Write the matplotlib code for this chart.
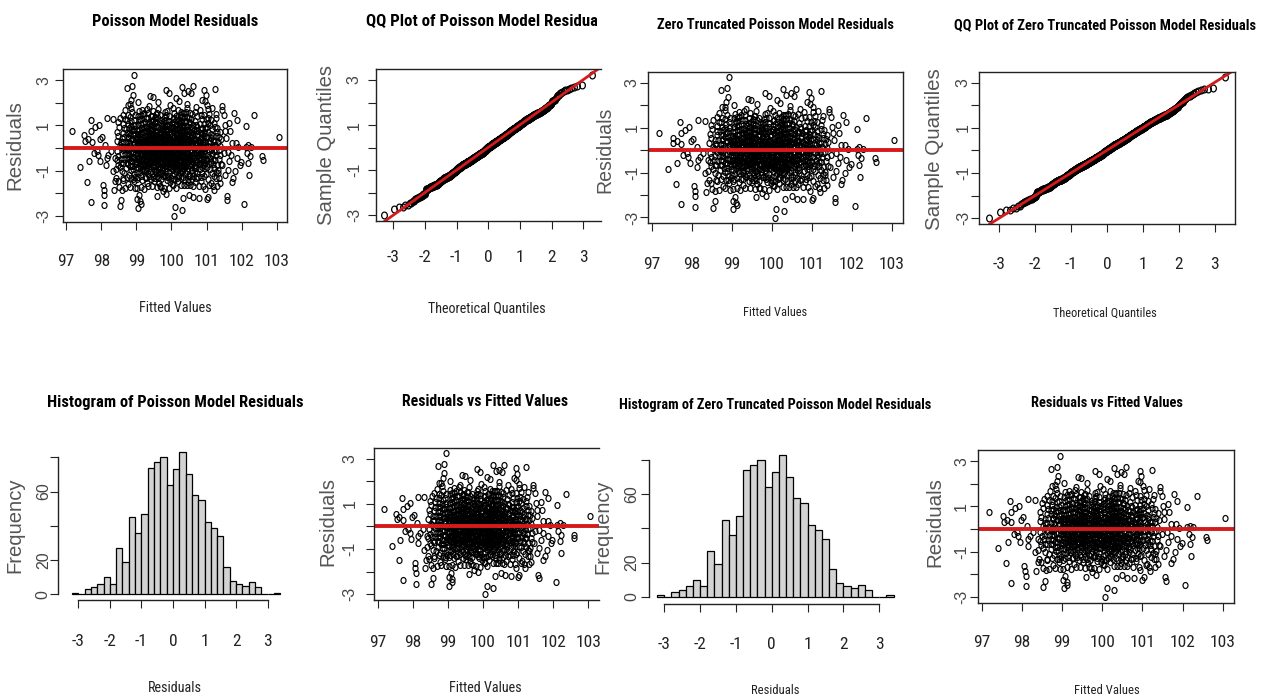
import statistics
import numpy as np
import matplotlib
matplotlib.use("Agg")
import matplotlib.pyplot as plt
from matplotlib import font_manager
from matplotlib.path import Path
from matplotlib.transforms import Affine2D, Bbox

# (fitted, residual) pairs with |residual| > 1.8
tail_points = [
    (100.07, -3.01),
    (100.30, -2.71), (99.04, -2.63), (100.11, -2.62),
    (98.09, -2.53), (98.53, -2.57), (102.07, -2.47), (99.13, -2.46),
    (97.72, -2.38), (98.57, -2.28), (99.11, -2.35), (99.02, -2.26), (101.59, -2.29), (101.00, -2.24),
    (98.09, -2.06), (99.08, -2.07), (101.57, -2.13), (101.03, -2.14), (100.79, -2.18),
    (100.62, -2.17), (100.33, -2.19), (99.60, -2.11), (99.85, -2.03), (100.50, -2.05),
    (98.07, -1.84), (98.36, -1.85), (98.59, -1.83), (101.20, -1.86), (100.95, -1.82), (99.75, -1.91),
    (101.02, 1.90), (98.75, 1.91), (98.82, 1.94), (101.43, 1.84), (99.35, 1.85), (99.95, 1.88),
    (100.45, 1.95), (100.70, 1.82),
    (98.86, 2.13), (100.88, 2.13), (100.95, 2.06), (99.62, 2.05), (100.20, 2.10), (99.05, 2.02),
    (98.90, 2.35), (99.40, 2.29), (99.48, 2.25), (100.97, 2.33), (100.12, 2.21),
    (99.83, 2.55), (99.93, 2.42), (100.36, 2.45), (100.47, 2.52), (100.93, 2.57), (100.55, 2.41),
    (98.72, 2.66), (98.88, 2.76), (100.29, 2.71), (100.60, 2.74), (101.24, 2.62),
    (98.94, 3.24),
]

# points inside +-1.8 that stand apart from the central cloud
edge_points = [
    (98.06, -1.62),
    (97.60, -1.50), (98.39, -1.47), (101.72, -1.50),
    (98.61, -1.32), (101.76, -1.32), (101.28, -1.33),
    (98.32, -1.03), (101.82, -1.03), (102.21, -1.18), (101.32, -1.10), (101.53, -1.18),
    (97.40, -0.85), (101.60, -0.95),
    (98.14, -0.74), (101.94, -0.74), (102.19, -0.66), (101.45, -0.74), (101.98, -0.61),
    (97.64, -0.59), (101.86, -0.44), (102.60, -0.51), (101.65, -0.59), (97.95, -0.57), (98.40, -0.44), (98.16, -0.44),
    (97.91, -0.29), (98.20, -0.29), (102.23, -0.37), (102.58, -0.37), (101.70, -0.30), (102.15, -0.22),
    (101.49, -0.22), (97.79, -0.22),
    (97.87, -0.12), (98.28, -0.12), (101.61, -0.15),
    (98.12, 0.15), (102.12, 0.07), (102.19, 0.15), (102.27, 0.07), (101.90, 0.05),
    (97.73, 0.29), (101.72, 0.22), (101.84, 0.22), (97.54, 0.32),
    (97.52, 0.56), (97.97, 0.41), (98.03, 0.51), (103.06, 0.47), (101.55, 0.45), (97.62, 0.41),
    (97.17, 0.76), (97.72, 0.76), (101.67, 0.74), (101.53, 0.74),
    (97.83, 0.91), (102.12, 0.96),
    (97.93, 1.03), (101.51, 1.03), (101.65, 1.10),
    (97.70, 1.25), (98.16, 1.32), (98.32, 1.29), (101.86, 1.25),
    (101.78, 1.54), (102.36, 1.44), (101.49, 1.47),
    (101.43, 1.69), (101.16, 1.76),
]

# the dense central cloud, estimated band by band (0.2 wide residual bands)
core_points = [
    # -1.8 .. -1.6
    (99.21, -1.79), (100.43, -1.64), (98.82, -1.71), (99.67, -1.67), (100.12, -1.75), (101.08, -1.61), (99.45, -1.69),
    (98.51, -1.73), (100.77, -1.66), (99.93, -1.78), (100.28, -1.63), (99.12, -1.70), (98.95, -1.76), (100.61, -1.65),
    (99.58, -1.72), (101.31, -1.68), (99.80, -1.74), (100.05, -1.61), (98.68, -1.77), (100.91, -1.66), (99.34, -1.69),
    (100.36, -1.63), (99.71, -1.71), (99.02, -1.75), (100.54, -1.64), (101.17, -1.67),
    # -1.6 .. -1.4
    (99.64, -1.52), (100.18, -1.47), (98.77, -1.58), (100.83, -1.43), (99.29, -1.55), (100.47, -1.49), (99.88, -1.41),
    (98.93, -1.46), (101.12, -1.53), (100.02, -1.57), (99.51, -1.44), (100.66, -1.51), (99.17, -1.42), (101.38, -1.56),
    (99.97, -1.48), (98.47, -1.45),
    # -1.4 .. -1.2
    (99.43, -1.38), (100.21, -1.25), (98.86, -1.31), (99.77, -1.22), (100.58, -1.36), (99.06, -1.28), (100.94, -1.21),
    (99.61, -1.34), (100.33, -1.27), (98.62, -1.39), (99.91, -1.23), (100.71, -1.33), (99.24, -1.29), (100.09, -1.37),
    (101.21, -1.24), (99.53, -1.32), (98.97, -1.26), (100.47, -1.35), (99.82, -1.21), (100.15, -1.30), (99.36, -1.22),
    (101.04, -1.38), (98.74, -1.27), (100.62, -1.25), (99.69, -1.36), (100.27, -1.31), (99.14, -1.23), (99.99, -1.34),
    (100.85, -1.28), (98.43, -1.33), (99.48, -1.26), (100.38, -1.39), (99.86, -1.29), (101.35, -1.32), (99.03, -1.37),
    (100.52, -1.22), (99.58, -1.24), (100.04, -1.36), (99.27, -1.30), (100.76, -1.27), (98.91, -1.35), (100.19, -1.21),
    # -1.2 .. -1.0
    (99.72, -1.12), (100.31, -1.04), (98.79, -1.17), (100.88, -1.09), (99.19, -1.01), (100.07, -1.15), (99.55, -1.06),
    (101.15, -1.11), (98.58, -1.03), (100.49, -1.19), (99.93, -1.08), (99.33, -1.14), (100.67, -1.02), (99.01, -1.10),
    (100.23, -1.07), (99.79, -1.18), (101.27, -1.05), (99.44, -1.13), (100.12, -1.01), (98.94, -1.16), (100.57, -1.09),
    (99.62, -1.04), (100.39, -1.12), (99.09, -1.07), (100.97, -1.15), (99.85, -1.03), (98.66, -1.11), (100.01, -1.18),
    (99.38, -1.06), (100.73, -1.10), (99.66, -1.14),
    # -1.0 .. -0.8
    (99.57, -0.93), (100.26, -0.84), (98.84, -0.97), (100.69, -0.88), (99.11, -0.81), (100.04, -0.95), (99.76, -0.86),
    (101.09, -0.91), (98.53, -0.83), (100.44, -0.99), (99.31, -0.89), (99.95, -0.82), (100.81, -0.94), (99.04, -0.87),
    (100.17, -0.92), (99.68, -0.85), (101.33, -0.96), (99.47, -0.81), (100.36, -0.90), (98.98, -0.84), (100.59, -0.98),
    (99.83, -0.88), (100.11, -0.83), (99.22, -0.95), (100.92, -0.86), (99.61, -0.91), (98.71, -0.89), (100.29, -0.97),
    (99.89, -0.82), (100.48, -0.87), (99.15, -0.93), (101.02, -0.85), (99.52, -0.99), (100.07, -0.81), (98.41, -0.92),
    (100.64, -0.84), (99.74, -0.96), (99.37, -0.88), (100.21, -0.91), (100.87, -0.83), (98.89, -0.94), (99.98, -0.86),
    (100.41, -0.81), (99.27, -0.97), (101.22, -0.89),
    # -0.8 .. -0.6
    (99.63, -0.72), (100.24, -0.65), (98.81, -0.78), (100.73, -0.61), (99.18, -0.69), (100.02, -0.75), (99.49, -0.63),
    (101.06, -0.71), (98.61, -0.67), (100.41, -0.79), (99.87, -0.64), (99.33, -0.73), (100.86, -0.68), (99.07, -0.62),
    (100.15, -0.76), (99.71, -0.66), (101.29, -0.74), (99.42, -0.61), (100.34, -0.77), (98.96, -0.64), (100.55, -0.70),
    (99.81, -0.79), (100.09, -0.63), (99.25, -0.75), (100.95, -0.67), (99.58, -0.72), (98.72, -0.65), (100.28, -0.78),
    (99.92, -0.61), (100.49, -0.74), (99.12, -0.68), (101.13, -0.63), (99.54, -0.77), (100.05, -0.69), (98.48, -0.73),
    (100.61, -0.62), (99.77, -0.76), (99.36, -0.66), (100.19, -0.71), (100.82, -0.64), (98.87, -0.79), (99.96, -0.67),
    (100.44, -0.61), (99.29, -0.74), (101.41, -0.69), (99.67, -0.63), (100.32, -0.72), (98.76, -0.68), (100.67, -0.75),
    (99.03, -0.62), (99.84, -0.77), (100.12, -0.66), (99.46, -0.71), (100.91, -0.73), (99.21, -0.64), (100.38, -0.78),
    (98.99, -0.69), (99.74, -0.65), (100.58, -0.76), (99.51, -0.62), (101.18, -0.72), (99.89, -0.68), (100.22, -0.74),
    (98.57, -0.66), (99.39, -0.79), (100.01, -0.63), (100.77, -0.70), (99.15, -0.77), (99.61, -0.67),
    # -0.6 .. -0.4
    (99.56, -0.53), (100.17, -0.46), (98.83, -0.58), (100.66, -0.41), (99.23, -0.49), (100.03, -0.55), (99.44, -0.43),
    (101.01, -0.51), (98.64, -0.47), (100.46, -0.59), (99.82, -0.44), (99.31, -0.54), (100.89, -0.48), (99.08, -0.42),
    (100.26, -0.56), (99.69, -0.45), (101.24, -0.52), (99.41, -0.41), (100.37, -0.57), (98.92, -0.44), (100.53, -0.50),
    (99.86, -0.59), (100.11, -0.43), (99.26, -0.55), (100.98, -0.47), (99.59, -0.52), (98.73, -0.45), (100.31, -0.58),
    (99.94, -0.41), (100.52, -0.54), (99.13, -0.48), (101.11, -0.43), (99.52, -0.57), (100.06, -0.49), (98.45, -0.53),
    (100.63, -0.42), (99.78, -0.56), (99.35, -0.46), (100.23, -0.51), (100.84, -0.44), (98.88, -0.59), (99.97, -0.47),
    (100.43, -0.41), (99.28, -0.54), (101.36, -0.49), (99.65, -0.43), (100.35, -0.52), (98.78, -0.48), (100.71, -0.55),
    (99.05, -0.42), (99.83, -0.57), (100.14, -0.46), (99.48, -0.51), (100.93, -0.53), (99.19, -0.44), (100.39, -0.58),
    (99.01, -0.49), (99.73, -0.45), (100.56, -0.56), (99.53, -0.42), (101.19, -0.52), (99.91, -0.48), (100.21, -0.54),
    (98.55, -0.46), (99.38, -0.59), (100.07, -0.43), (100.79, -0.50), (99.16, -0.57), (99.62, -0.47), (100.48, -0.45),
    # -0.4 .. -0.2
    (99.61, -0.33), (100.22, -0.26), (98.86, -0.38), (100.69, -0.21), (99.17, -0.29), (100.08, -0.35), (99.47, -0.23),
    (101.04, -0.31), (98.67, -0.27), (100.42, -0.39), (99.85, -0.24), (99.34, -0.34), (100.83, -0.28), (99.09, -0.22),
    (100.29, -0.36), (99.72, -0.25), (101.26, -0.32), (99.43, -0.21), (100.34, -0.37), (98.97, -0.24), (100.57, -0.30),
    (99.81, -0.39), (100.13, -0.23), (99.24, -0.35), (100.96, -0.27), (99.55, -0.32), (98.75, -0.25), (100.27, -0.38),
    (99.93, -0.21), (100.51, -0.34), (99.14, -0.28), (101.14, -0.23), (99.57, -0.37), (100.04, -0.29), (98.49, -0.33),
    (100.64, -0.22), (99.76, -0.36), (99.32, -0.26), (100.25, -0.31), (100.87, -0.24), (98.91, -0.39), (99.95, -0.27),
    (100.45, -0.21), (99.27, -0.34), (101.39, -0.29), (99.66, -0.23), (100.33, -0.32), (98.79, -0.28), (100.74, -0.35),
    (99.04, -0.22), (99.87, -0.37), (100.16, -0.26), (99.49, -0.31), (100.91, -0.33), (99.21, -0.24), (100.37, -0.38),
    (99.02, -0.29), (99.75, -0.25), (100.59, -0.36), (99.52, -0.22), (101.16, -0.32), (99.89, -0.28), (100.19, -0.34),
    (98.58, -0.26), (99.39, -0.39), (100.01, -0.23), (100.78, -0.30), (99.13, -0.37), (99.64, -0.27), (100.47, -0.25),
    (99.99, -0.31), (100.62, -0.35),
    # -0.2 .. 0
    (99.59, -0.13), (100.24, -0.06), (98.84, -0.18), (100.72, -0.02), (99.19, -0.09), (100.06, -0.15), (99.45, -0.03),
    (101.07, -0.11), (98.63, -0.07), (100.44, -0.19), (99.83, -0.04), (99.36, -0.14), (100.85, -0.08), (99.06, -0.02),
    (100.31, -0.16), (99.69, -0.05), (101.28, -0.12), (99.42, -0.01), (100.36, -0.17), (98.94, -0.04), (100.55, -0.10),
    (99.79, -0.19), (100.11, -0.03), (99.26, -0.15), (100.94, -0.07), (99.56, -0.12), (98.73, -0.05), (100.28, -0.18),
    (99.91, -0.01), (100.53, -0.14), (99.11, -0.08), (101.12, -0.03), (99.54, -0.17), (100.03, -0.09), (98.46, -0.13),
    (100.65, -0.02), (99.74, -0.16), (99.31, -0.06), (100.21, -0.11), (100.88, -0.04), (98.89, -0.19), (99.97, -0.07),
    (100.41, -0.01), (99.29, -0.14), (101.34, -0.09), (99.63, -0.03), (100.32, -0.12), (98.77, -0.08), (100.76, -0.15),
    (99.03, -0.02), (99.86, -0.17), (100.14, -0.06), (99.48, -0.11), (100.92, -0.13), (99.22, -0.04), (100.38, -0.18),
    (99.01, -0.09), (99.73, -0.05), (100.58, -0.16), (99.51, -0.02), (101.21, -0.12),
    # 0 .. 0.2
    (99.62, 0.13), (100.19, 0.06), (98.82, 0.18), (100.67, 0.02), (99.16, 0.09), (100.04, 0.15), (99.46, 0.03),
    (101.03, 0.11), (98.66, 0.07), (100.45, 0.19), (99.84, 0.04), (99.35, 0.14), (100.81, 0.08), (99.08, 0.02),
    (100.27, 0.16), (99.71, 0.05), (101.25, 0.12), (99.44, 0.01), (100.35, 0.17), (98.96, 0.04), (100.56, 0.10),
    (99.82, 0.19), (100.12, 0.03), (99.23, 0.15), (100.97, 0.07), (99.57, 0.12), (98.74, 0.05), (100.29, 0.18),
    (99.94, 0.01), (100.52, 0.14), (99.12, 0.08), (101.15, 0.03), (99.53, 0.17), (100.07, 0.09), (98.52, 0.13),
    (100.63, 0.02), (99.77, 0.16), (99.33, 0.06), (100.23, 0.11), (100.86, 0.04), (98.92, 0.19), (99.96, 0.07),
    (100.46, 0.01), (99.28, 0.14), (101.37, 0.09), (99.67, 0.03), (100.34, 0.12), (98.78, 0.08), (100.73, 0.15),
    (99.05, 0.02), (99.88, 0.17), (100.15, 0.06), (99.49, 0.11), (100.93, 0.13), (99.21, 0.04), (100.39, 0.18),
    (99.02, 0.09), (99.74, 0.05), (100.59, 0.16), (99.52, 0.02), (101.18, 0.12), (99.89, 0.08), (100.21, 0.14),
    (98.56, 0.06), (99.38, 0.19), (100.02, 0.03), (100.79, 0.10), (99.14, 0.17),
    # 0.2 .. 0.4
    (99.58, 0.33), (100.26, 0.26), (98.87, 0.38), (100.71, 0.21), (99.18, 0.29), (100.09, 0.35), (99.43, 0.23),
    (101.06, 0.31), (98.61, 0.27), (100.43, 0.39), (99.86, 0.24), (99.37, 0.34), (100.84, 0.28), (99.07, 0.22),
    (100.32, 0.36), (99.68, 0.25), (101.23, 0.32), (99.41, 0.21), (100.37, 0.37), (98.93, 0.24), (100.54, 0.30),
    (99.81, 0.39), (100.14, 0.23), (99.25, 0.35), (100.95, 0.27), (99.55, 0.32), (98.72, 0.25), (100.31, 0.38),
    (99.92, 0.21), (100.49, 0.34), (99.13, 0.28), (101.11, 0.23), (99.56, 0.37), (100.05, 0.29), (98.44, 0.33),
    (100.62, 0.22), (99.76, 0.36), (99.34, 0.26), (100.24, 0.31), (100.89, 0.24), (98.88, 0.39), (99.98, 0.27),
    (100.42, 0.21), (99.29, 0.34), (101.32, 0.29), (99.64, 0.23), (100.36, 0.32), (98.79, 0.28), (100.75, 0.35),
    (99.04, 0.22), (99.84, 0.37), (100.17, 0.26), (99.47, 0.31), (100.91, 0.33), (99.22, 0.24), (100.38, 0.38),
    (99.01, 0.29), (99.72, 0.25), (100.57, 0.36), (99.51, 0.22), (101.19, 0.32), (99.88, 0.28), (100.22, 0.34),
    (98.57, 0.26), (99.39, 0.39), (100.03, 0.23), (100.78, 0.30), (99.15, 0.37), (99.63, 0.27), (100.47, 0.25),
    (99.97, 0.31), (100.64, 0.35), (99.27, 0.22), (100.11, 0.33), (98.98, 0.36), (100.82, 0.27), (99.79, 0.24),
    (101.41, 0.38), (99.48, 0.30),
    # 0.4 .. 0.6
    (99.61, 0.53), (100.21, 0.46), (98.83, 0.58), (100.68, 0.41), (99.16, 0.49), (100.07, 0.55), (99.44, 0.43),
    (101.02, 0.51), (98.65, 0.47), (100.44, 0.59), (99.83, 0.44), (99.32, 0.54), (100.87, 0.48), (99.06, 0.42),
    (100.29, 0.56), (99.71, 0.45), (101.27, 0.52), (99.42, 0.41), (100.35, 0.57), (98.95, 0.44), (100.56, 0.50),
    (99.79, 0.59), (100.12, 0.43), (99.24, 0.55), (100.98, 0.47), (99.57, 0.52), (98.76, 0.45), (100.27, 0.58),
    (99.93, 0.41), (100.51, 0.54), (99.11, 0.48), (101.13, 0.43), (99.54, 0.57), (100.06, 0.49), (98.48, 0.53),
    (100.64, 0.42), (99.75, 0.56), (99.35, 0.46), (100.25, 0.51), (100.85, 0.44), (98.91, 0.59), (99.96, 0.47),
    (100.44, 0.42), (99.29, 0.54), (101.35, 0.49), (99.66, 0.43), (100.33, 0.52), (98.77, 0.48), (100.74, 0.55),
    (99.03, 0.42), (99.87, 0.57), (100.16, 0.46), (99.49, 0.51), (100.94, 0.53), (99.21, 0.44), (100.39, 0.58),
    (99.02, 0.49), (99.74, 0.45), (100.59, 0.56), (99.52, 0.42), (101.17, 0.52), (99.89, 0.48), (100.19, 0.54),
    (98.58, 0.46),
    # 0.6 .. 0.8
    (99.59, 0.73), (100.23, 0.66), (98.85, 0.78), (100.72, 0.61), (99.19, 0.69), (100.05, 0.75), (99.46, 0.63),
    (101.05, 0.71), (98.62, 0.67), (100.41, 0.79), (99.85, 0.64), (99.33, 0.74), (100.83, 0.68), (99.09, 0.62),
    (100.28, 0.76), (99.69, 0.65), (101.29, 0.72), (99.41, 0.61), (100.36, 0.77), (98.97, 0.64), (100.55, 0.70),
    (99.81, 0.79), (100.13, 0.63), (99.26, 0.75), (100.96, 0.67), (99.56, 0.72), (98.73, 0.65), (100.31, 0.78),
    (99.95, 0.61), (100.49, 0.74), (99.14, 0.68), (101.12, 0.63), (99.53, 0.77), (100.08, 0.69), (98.46, 0.73),
    (100.63, 0.62), (99.77, 0.76), (99.36, 0.66), (100.24, 0.71), (100.88, 0.64), (98.89, 0.79), (99.98, 0.67),
    (100.46, 0.61), (99.28, 0.74), (101.38, 0.69), (99.65, 0.63), (100.34, 0.72), (98.79, 0.68), (100.76, 0.75),
    (99.04, 0.62), (99.86, 0.77), (100.17, 0.66), (99.48, 0.71), (100.92, 0.73),
    # 0.8 .. 1.0
    (99.62, 0.93), (100.18, 0.86), (98.84, 0.98), (100.69, 0.81), (99.17, 0.89), (100.03, 0.95), (99.43, 0.83),
    (101.01, 0.91), (98.64, 0.87), (100.43, 0.99), (99.84, 0.84), (99.31, 0.94), (100.86, 0.88), (99.07, 0.82),
    (100.27, 0.96), (99.72, 0.85), (101.24, 0.92), (99.44, 0.81), (100.37, 0.97), (98.94, 0.84), (100.57, 0.90),
    (99.82, 0.99), (100.11, 0.83), (99.23, 0.95), (100.95, 0.87), (99.58, 0.92), (98.71, 0.85), (100.29, 0.98),
    (99.91, 0.81), (100.52, 0.94), (99.12, 0.88), (101.14, 0.83), (99.55, 0.97), (100.04, 0.89), (98.51, 0.93),
    (100.65, 0.82), (99.76, 0.96), (99.34, 0.86), (100.22, 0.91), (100.84, 0.84), (98.92, 0.99), (99.97, 0.87),
    (100.47, 0.81), (99.27, 0.94), (101.31, 0.89), (99.67, 0.83), (100.33, 0.92), (98.78, 0.88), (100.73, 0.95),
    (99.02, 0.82), (99.88, 0.97), (100.14, 0.86), (99.49, 0.91),
    # 1.0 .. 1.2
    (99.57, 1.13), (100.25, 1.06), (98.86, 1.18), (100.71, 1.01), (99.18, 1.09), (100.08, 1.15), (99.45, 1.03),
    (101.03, 1.11), (98.63, 1.07), (100.42, 1.19), (99.86, 1.04), (99.35, 1.14), (100.82, 1.08), (99.06, 1.02),
    (100.31, 1.16), (99.73, 1.05), (101.22, 1.12), (99.42, 1.01), (100.38, 1.17), (98.96, 1.04), (100.54, 1.10),
    (99.79, 1.19), (100.13, 1.03), (99.24, 1.15), (100.93, 1.07), (99.54, 1.12), (98.75, 1.05), (100.26, 1.18),
    (99.94, 1.01), (100.51, 1.14), (99.13, 1.08), (101.09, 1.03), (99.52, 1.17), (100.02, 1.09), (98.49, 1.13),
    (100.61, 1.02), (99.75, 1.16), (99.37, 1.06), (100.21, 1.11),
    # 1.2 .. 1.4
    (99.63, 1.33), (100.22, 1.26), (98.82, 1.38), (100.68, 1.21), (99.16, 1.29), (100.06, 1.35), (99.47, 1.23),
    (101.05, 1.31), (98.67, 1.27), (100.44, 1.39), (99.83, 1.24), (99.32, 1.34), (100.87, 1.28), (99.08, 1.22),
    (100.29, 1.36), (99.71, 1.25), (101.26, 1.32), (99.41, 1.21), (100.36, 1.37), (98.93, 1.24), (100.56, 1.30),
    (99.81, 1.39), (100.12, 1.23), (99.26, 1.35), (100.97, 1.27), (99.56, 1.32), (98.74, 1.25), (100.28, 1.38),
    (99.92, 1.21), (100.49, 1.34), (99.11, 1.28), (101.13, 1.23), (99.53, 1.37), (100.04, 1.29), (98.54, 1.33),
    # 1.4 .. 1.6
    (99.58, 1.53), (100.24, 1.46), (98.87, 1.58), (100.73, 1.41), (99.19, 1.49), (100.07, 1.55), (99.44, 1.43),
    (101.08, 1.51), (98.62, 1.47), (100.41, 1.59), (99.85, 1.44), (99.34, 1.54), (100.84, 1.48), (99.05, 1.42),
    (100.32, 1.56), (99.68, 1.45), (101.28, 1.52), (99.43, 1.41), (100.35, 1.57), (98.95, 1.44), (100.58, 1.50),
    (99.82, 1.59), (100.14, 1.43), (99.23, 1.55), (100.94, 1.47), (99.55, 1.52), (98.76, 1.45), (100.27, 1.58),
    (99.93, 1.41), (100.52, 1.54), (99.12, 1.48),
    # 1.6 .. 1.8
    (99.61, 1.73), (100.19, 1.66), (98.84, 1.78), (100.66, 1.61), (99.17, 1.69), (100.03, 1.75), (99.46, 1.63),
    (101.04, 1.71), (98.69, 1.67), (100.45, 1.79), (99.87, 1.64), (99.31, 1.74), (100.81, 1.68), (99.07, 1.62),
]

# histogram bars
hist_breaks = [-3.2, -3.0, -2.8, -2.6, -2.4, -2.2, -2.0, -1.8, -1.6, -1.4, -1.2, -1.0, -0.8, -0.6, -0.4, -0.2,
               0.0, 0.2, 0.4, 0.6, 0.8, 1.0, 1.2, 1.4, 1.6, 1.8, 2.0, 2.2, 2.4, 2.6, 2.8, 3.0, 3.2, 3.4]
hist_counts = [1, 0, 3, 4, 6, 10, 6, 27, 19, 45, 36, 47, 74, 77, 80, 64, 73, 83, 70, 58, 55, 42, 39, 34, 16,
               8, 6, 5, 7, 4, 0, 0, 1]

points = tail_points + edge_points + core_points
fitted = [p[0] for p in points]
resid = [p[1] for p in points]

# normal QQ, the way qqnorm / qqline do it
srt = sorted(resid)
n = len(srt)
nd = statistics.NormalDist()
theo = [nd.inv_cdf((i + 0.5) / n) for i in range(n)]
q1, q3 = np.percentile(resid, [25, 75])
z1, z3 = nd.inv_cdf(0.25), nd.inv_cdf(0.75)
qq_slope = (q3 - q1) / (z3 - z1)
qq_icpt = q1 - qq_slope * z1


# a narrow grotesque that also has a bold face stands in for the squeezed R text
def weight_num(w):
    return w if isinstance(w, (int, float)) else font_manager.weight_dict.get(w, 400)


installed = {f.name for f in font_manager.fontManager.ttflist}
with_bold = {f.name for f in font_manager.fontManager.ttflist if weight_num(f.weight) >= 600}
wanted = ['Liberation Sans Narrow', 'Arial Narrow', 'Roboto Condensed', 'Archivo Narrow',
          'Fira Sans Condensed', 'Barlow Condensed', 'Asap Condensed']
pick = [nm for nm in wanted if nm in with_bold] or [nm for nm in wanted if nm in installed]
NARROW = pick[:1] + ['DejaVu Sans']
PLAIN = ['Liberation Sans', 'DejaVu Sans']

W, H = 1271, 700
fig = plt.figure(figsize=(W / 100, H / 100), dpi=100)
fig.patch.set_facecolor('white')
renderer = fig.canvas.get_renderer()

RED = '#d41a1a'
TICK = 8
XT_SIZE = 12.5
YT_SIZE = 11.5
oval = Path.unit_circle().transformed(Affine2D().scale(0.84, 1.0))


def px_axes(l, t, r, b):
    return fig.add_axes([l / W, 1 - b / H, (r - l) / W, (b - t) / H])


def put_text(s, x, y, span, family=None, bold=False, vertical=False, clip_x=None, color='black', grow=1.0):
    t = fig.text(x / W, 1 - y / H, s, ha='center', va='center', rotation=90 if vertical else 0,
                 fontsize=12, fontweight='bold' if bold else 'normal', family=family or NARROW, color=color)
    ext = t.get_window_extent(renderer)
    cur = ext.height if vertical else ext.width
    t.set_fontsize(12 * span * grow / cur)
    if clip_x is not None:
        t.set_clip_box(Bbox.from_extents(0, 0, clip_x, H))
        t.set_clip_on(True)
    return t


def frame(ax, box, xticks, xlabels, yticks, ylabels, xtl_y, ytl_x):
    l, t, r, b = box
    xs = XT_SIZE * 100 / 72
    ys = YT_SIZE * 100 / 72
    ax.set_xticks(xticks, xlabels, family=NARROW, fontsize=XT_SIZE, color='#222222')
    ax.set_yticks(yticks, ylabels, family=PLAIN, fontsize=YT_SIZE, color='#444444', rotation=90, va='center')
    padx = xtl_y - b - TICK - 0.36 * xs
    pady = l - TICK - ytl_x - 0.57 * ys
    ax.tick_params(axis='x', length=TICK * 0.72, width=0.8, pad=padx * 0.72, color='#222222')
    ax.tick_params(axis='y', length=TICK * 0.72, width=0.8, pad=pady * 0.72, color='#222222')
    for sp in ax.spines.values():
        sp.set_linewidth(1.0)
        sp.set_color('#222222')


def resid_panel(box, xtl_y, ytl_x, open_right=False):
    ax = px_axes(*box)
    ax.plot(fitted, resid, linestyle='none', marker=oval, markersize=4.3,
            mfc='none', mec='black', mew=0.85)
    ax.axhline(0, color=RED, lw=2.8)
    ax.set_xlim(96.91, 103.29)
    ax.set_ylim(-3.26, 3.49)
    frame(ax, box, [97, 98, 99, 100, 101, 102, 103], ['97', '98', '99', '100', '101', '102', '103'],
          [-3, -2, -1, 0, 1, 2, 3], ['-3', '', '-1', '', '1', '', '3'], xtl_y, ytl_x)
    if open_right:
        ax.spines['right'].set_visible(False)
    return ax


def qq_panel(box, xtl_y, ytl_x, open_right=False):
    ax = px_axes(*box)
    ax.plot(theo, srt, linestyle='none', marker=oval, markersize=4.9,
            mfc='none', mec='black', mew=0.9)
    ax.axline((0, qq_icpt), slope=qq_slope, color=RED, lw=2.0)
    ax.set_xlim(-3.553, 3.553)
    ax.set_ylim(-3.26, 3.49)
    frame(ax, box, [-3, -2, -1, 0, 1, 2, 3], ['-3', '-2', '-1', '0', '1', '2', '3'],
          [-3, -2, -1, 0, 1, 2, 3], ['-3', '', '-1', '', '1', '', '3'], xtl_y, ytl_x)
    if open_right:
        ax.spines['right'].set_visible(False)
    return ax


def hist_panel(box, xlim, ylim, xtl_y, ytl_x):
    ax = px_axes(*box)
    ax.bar(hist_breaks[:-1], hist_counts, width=0.2, align='edge', color='#d3d3d3',
           edgecolor='black', linewidth=0.9)
    ax.set_xlim(*xlim)
    ax.set_ylim(*ylim)
    frame(ax, box, [-3, -2, -1, 0, 1, 2, 3], ['-3', '-2', '-1', '0', '1', '2', '3'],
          [0, 20, 40, 60, 80], ['0', '20', '', '60', ''], xtl_y, ytl_x)
    ax.spines['top'].set_visible(False)
    ax.spines['right'].set_visible(False)
    ax.spines['left'].set_bounds(0, 80)
    ax.spines['bottom'].set_bounds(-3, 3)
    return ax


# top row
resid_panel((63, 69, 287, 222), 260, 42)
qq_panel((375.7, 69, 600.7, 221), 256.7, 352.7, open_right=True)
resid_panel((648.3, 71.7, 903.3, 223.3), 263, 630.7)
qq_panel((979.3, 71.7, 1234.5, 224), 263, 961.7)

# bottom row
hist_panel((58.3, 446, 290, 600), (-3.634, 3.708), (-3.33, 86.6), 640, 41.7)
resid_panel((374.4, 447.7, 598.5, 600), 641.7, 348.3, open_right=True)
hist_panel((649.3, 448, 900, 604), (-3.419, 3.58), (-4.28, 87.1), 643.3, 630)
resid_panel((978.3, 450, 1234.3, 602.7), 641.7, 960)

# titles
put_text('Poisson Model Residuals', 175, 22, 167, bold=True)
put_text('QQ Plot of Poisson Model Residuals', 488, 22, 244, bold=True, clip_x=597)
put_text('Zero Truncated Poisson Model Residuals', 775, 25, 237, bold=True)
put_text('QQ Plot of Zero Truncated Poisson Model Residuals', 1105, 25, 303, bold=True)
put_text('Histogram of Poisson Model Residuals', 175, 402, 257, bold=True)
put_text('Residuals vs Fitted Values', 485, 401, 167, bold=True)
put_text('Histogram of Zero Truncated Poisson Model Residuals', 775, 405, 314, bold=True, clip_x=931)
put_text('Residuals vs Fitted Values', 1107, 403, 152, bold=True)

# x axis titles
put_text('Fitted Values', 175, 308, 65, color='#222222', grow=1.12)
put_text('Theoretical Quantiles', 487, 308, 106, color='#222222', grow=1.12)
put_text('Fitted Values', 775, 312, 57, color='#222222', grow=1.12)
put_text('Theoretical Quantiles', 1105, 313, 93, color='#222222', grow=1.12)
put_text('Residuals', 175, 688, 48, color='#222222', grow=1.12)
put_text('Fitted Values', 485, 688, 65, color='#222222', grow=1.12)
put_text('Residuals', 775, 690, 43, color='#222222', grow=1.12)
put_text('Fitted Values', 1107, 690, 58, color='#222222', grow=1.12)

# y axis titles
put_text('Residuals', 15, 145, 90, family=PLAIN, vertical=True, color='#555555')
put_text('Sample Quantiles', 327, 145, 160, family=PLAIN, vertical=True, color='#555555')
put_text('Residuals', 605, 150, 86, family=PLAIN, vertical=True, color='#555555')
put_text('Sample Quantiles', 935, 149, 162, family=PLAIN, vertical=True, color='#555555')
put_text('Frequency', 15, 525, 96, family=PLAIN, vertical=True, color='#555555')
put_text('Residuals', 328, 522, 89, family=PLAIN, vertical=True, color='#555555')
put_text('Frequency', 603, 527, 95, family=PLAIN, vertical=True, color='#555555')
put_text('Residuals', 935, 522, 90, family=PLAIN, vertical=True, color='#555555')

fig.savefig('out.png', dpi=100, facecolor='white')
